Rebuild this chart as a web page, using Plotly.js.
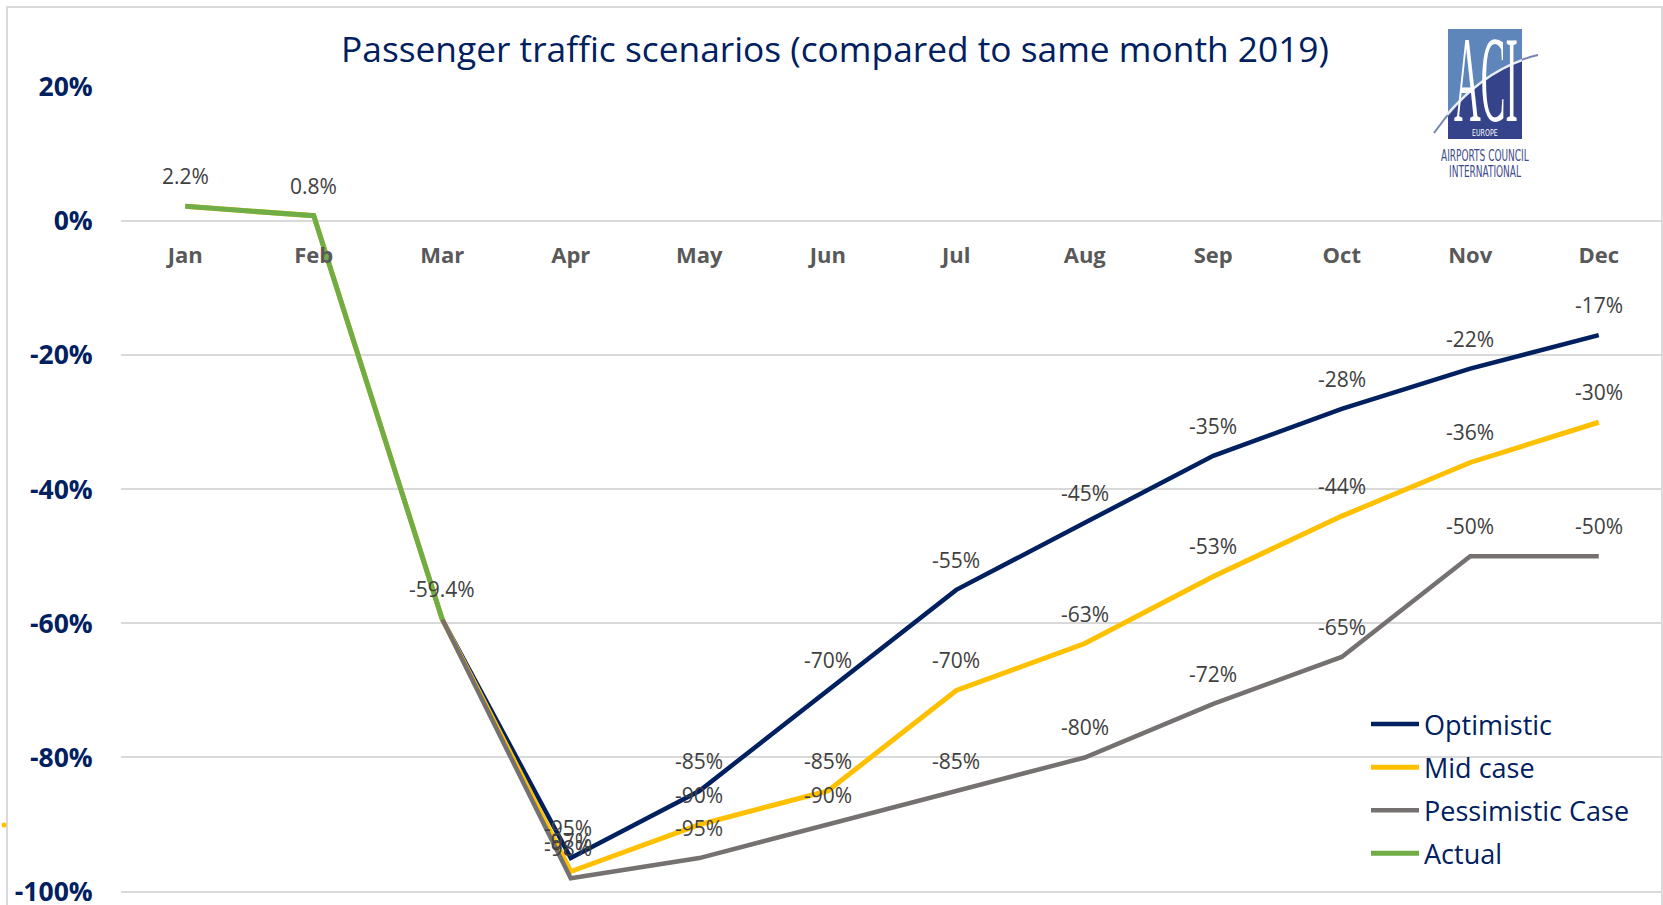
<!DOCTYPE html>
<html>
<head>
<meta charset="utf-8">
<script src="https://cdn.plot.ly/plotly-3.0.1.min.js"></script>
<style>
  html, body { margin: 0; padding: 0; background: #ffffff; }
  #chart { width: 1663px; height: 905px; }
</style>
</head>
<body>
<div id="chart"></div>
<script>
// ---- Data ----
const months = ['Jan', 'Feb', 'Mar', 'Apr', 'May', 'Jun', 'Jul', 'Aug', 'Sep', 'Oct', 'Nov', 'Dec'];
const actual      = [2.2, 0.8, -59.4, null, null, null, null, null, null, null, null, null];
const optimistic  = [null, null, -59.4, -95, -85, -70, -55, -45, -35, -28, -22, -17];
const midCase     = [2.2, 0.8, -59.4, -97, -90, -85, -70, -63, -53, -44, -36, -30];
const pessimistic = [null, null, -59.4, -98, -95, -90, -85, -80, -72, -65, -50, -50];
const yTickVals = [20, 0, -20, -40, -60, -80, -100];
const yTickText = ['20%', '0%', '-20%', '-40%', '-60%', '-80%', '-100%'];
const titleText = 'Passenger traffic scenarios (compared to same month 2019)';

// ---- Layout geometry helpers (pixels -> paper fractions) ----
const W = 1663, H = 905;
const M = { l: 121, r: 0, t: 87, b: 0 };
const PW = W - M.l - M.r, PH = H - M.t - M.b;
const px = x => (x - M.l) / PW;
const py = y => (H - M.b - y) / PH;
const pt = (x, y) => px(x).toFixed(5) + ',' + py(y).toFixed(5);
const yRange = [-102, 20];

const series = [
  { name: 'Optimistic',       y: optimistic,  color: '#002060', width: 4.5 },
  { name: 'Mid case',         y: midCase,     color: '#FFC000', width: 5 },
  { name: 'Pessimistic Case', y: pessimistic, color: '#767171', width: 4.5 },
  { name: 'Actual',           y: actual,      color: '#70AD47', width: 5 }
];

const traces = series.map((s, i) => ({
  type: 'scatter',
  mode: 'lines',
  name: s.name,
  legendgroup: 'g' + i,
  x: months,
  y: s.y,
  line: { color: s.color, width: s.width },
  connectgaps: false,
  hoverinfo: 'x+y+name'
}));

// ---- Data labels ----
const labelFont = { family: 'Open Sans', size: 21, color: '#404040' };
const annotations = [];
months.forEach((m, i) => {
  if (actual[i] !== null) {
    annotations.push({ x: m, y: actual[i], xref: 'x', yref: 'y', text: actual[i].toFixed(1) + '%',
      showarrow: false, yshift: 30, font: labelFont });
  }
});
[optimistic, midCase, pessimistic].forEach(arr => {
  months.forEach((m, i) => {
    if (arr[i] !== null && actual[i] === null) {
      annotations.push({ x: m, y: arr[i], xref: 'x', yref: 'y', text: arr[i] + '%',
        showarrow: false, yshift: 30, xshift: (i === 3 ? -3 : 0), font: labelFont });
    }
  });
});

// ---- Logo (ACI Europe) texts ----
const narrow = 'Liberation Sans Narrow, DejaVu Sans Condensed, Liberation Sans, sans-serif';
annotations.push({ xref: 'paper', yref: 'paper', x: px(1486), y: py(80), text: 'ACI', showarrow: false,
  xanchor: 'center', yanchor: 'middle', font: { family: 'Liberation Serif', size: 37, color: '#ffffff' } });
annotations.push({ xref: 'paper', yref: 'paper', x: px(1485), y: py(133), text: 'EUROPE', showarrow: false,
  xanchor: 'center', yanchor: 'middle', font: { family: narrow, size: 7, color: '#ffffff' } });
annotations.push({ xref: 'paper', yref: 'paper', x: px(1485), y: py(155), text: 'AIRPORTS COUNCIL', showarrow: false,
  xanchor: 'center', yanchor: 'middle', font: { family: narrow, size: 10, color: '#3d4b8a' } });
annotations.push({ xref: 'paper', yref: 'paper', x: px(1485), y: py(172), text: 'INTERNATIONAL', showarrow: false,
  xanchor: 'center', yanchor: 'middle', font: { family: narrow, size: 10, color: '#3d4b8a' } });

// ---- Shapes: chart border, logo ----
const shapes = [
  // outer chart border
  { type: 'rect', xref: 'paper', yref: 'paper', x0: px(7), x1: px(1662), y0: py(7), y1: py(915),
    line: { color: '#d9d9d9', width: 2 }, fillcolor: 'rgba(0,0,0,0)', layer: 'above' },
  // logo white background (hides gridline)
  { type: 'rect', xref: 'paper', yref: 'paper', x0: px(1432), x1: px(1541), y0: py(28), y1: py(180),
    line: { width: 0 }, fillcolor: '#ffffff', layer: 'above' },
  // logo dark box
  { type: 'rect', xref: 'paper', yref: 'paper', x0: px(1448), x1: px(1522), y0: py(29), y1: py(139),
    line: { width: 0 }, fillcolor: '#34438a', layer: 'above' },
  // logo light region above swoosh
  { type: 'path', xref: 'paper', yref: 'paper', layer: 'above', line: { width: 0 }, fillcolor: '#5f86bb',
    path: 'M' + pt(1448, 29) + ' L' + pt(1522, 29) + ' L' + pt(1522, 60) + ' Q' + pt(1481.5, 74.6) + ' ' + pt(1448, 114) + ' Z' },
  // swoosh (full)
  { type: 'path', xref: 'paper', yref: 'paper', layer: 'above', line: { color: '#7584ad', width: 2 },
    path: 'M' + pt(1434, 133) + ' Q' + pt(1480, 68) + ' ' + pt(1538, 55) },
  // swoosh (inside box)
  { type: 'path', xref: 'paper', yref: 'paper', layer: 'above', line: { color: '#e8edf5', width: 2.5 },
    path: 'M' + pt(1447, 114.6) + ' Q' + pt(1481.5, 74.6) + ' ' + pt(1522, 60.1) },
  // small yellow dot at left edge
  { type: 'circle', xref: 'paper', yref: 'paper', x0: px(1.5), x1: px(6.5), y0: py(822.5), y1: py(827.5),
    line: { width: 0 }, fillcolor: '#FFC000', layer: 'above' }
];

const layout = {
  width: W, height: H,
  margin: { l: M.l, r: M.r, t: M.t, b: M.b, pad: 0 },
  paper_bgcolor: '#ffffff',
  plot_bgcolor: '#ffffff',
  title: {
    text: titleText,
    font: { family: 'Open Sans', size: 35.3, color: '#002060' },
    xref: 'container', yref: 'container',
    x: 835 / W, xanchor: 'center',
    y: 1 - 50 / H, yanchor: 'middle'
  },
  xaxis: {
    type: 'category',
    range: [-0.5, 11.5],
    showgrid: false, zeroline: false, showline: false,
    anchor: 'free', position: (0 - yRange[0]) / (yRange[1] - yRange[0]),
    ticks: 'outside', ticklen: 15, tickcolor: 'rgba(0,0,0,0)',
    tickfont: { family: 'Open Sans', size: 22, color: '#595959', weight: 'bold' },
    fixedrange: true
  },
  yaxis: {
    range: yRange,
    tickvals: yTickVals, ticktext: yTickText,
    showgrid: true, gridcolor: '#d9d9d9', gridwidth: 2,
    zeroline: false, showline: false,
    ticks: 'outside', ticklen: 22, tickcolor: 'rgba(0,0,0,0)',
    ticklabeloverflow: 'allow',
    tickfont: { family: 'Open Sans', size: 26.5, color: '#002060', weight: 'bold' },
    fixedrange: true
  },
  showlegend: true,
  legend: {
    x: px(1366), y: py(700), xanchor: 'left', yanchor: 'top',
    xref: 'paper', yref: 'paper',
    font: { family: 'Open Sans', size: 27, color: '#002060' },
    bgcolor: 'rgba(0,0,0,0)', borderwidth: 0,
    tracegroupgap: 5, itemwidth: 48,
    traceorder: 'grouped'
  },
  annotations: annotations,
  shapes: shapes
};

Plotly.newPlot('chart', traces, layout, { displayModeBar: false }).then(gd => {
  const stretch = { 'ACI': 3.3, 'AIRPORTS COUNCIL': 1.5, 'INTERNATIONAL': 1.5, 'EUROPE': 1.3 };
  gd.querySelectorAll('.annotation-text').forEach(t => {
    const s = t.getAttribute('data-unformatted');
    if (stretch[s]) {
      t.style.transformBox = 'fill-box';
      t.style.transformOrigin = 'center';
      t.style.transform = 'scaleY(' + stretch[s] + ')';
    }
  });
});
</script>
</body>
</html>
